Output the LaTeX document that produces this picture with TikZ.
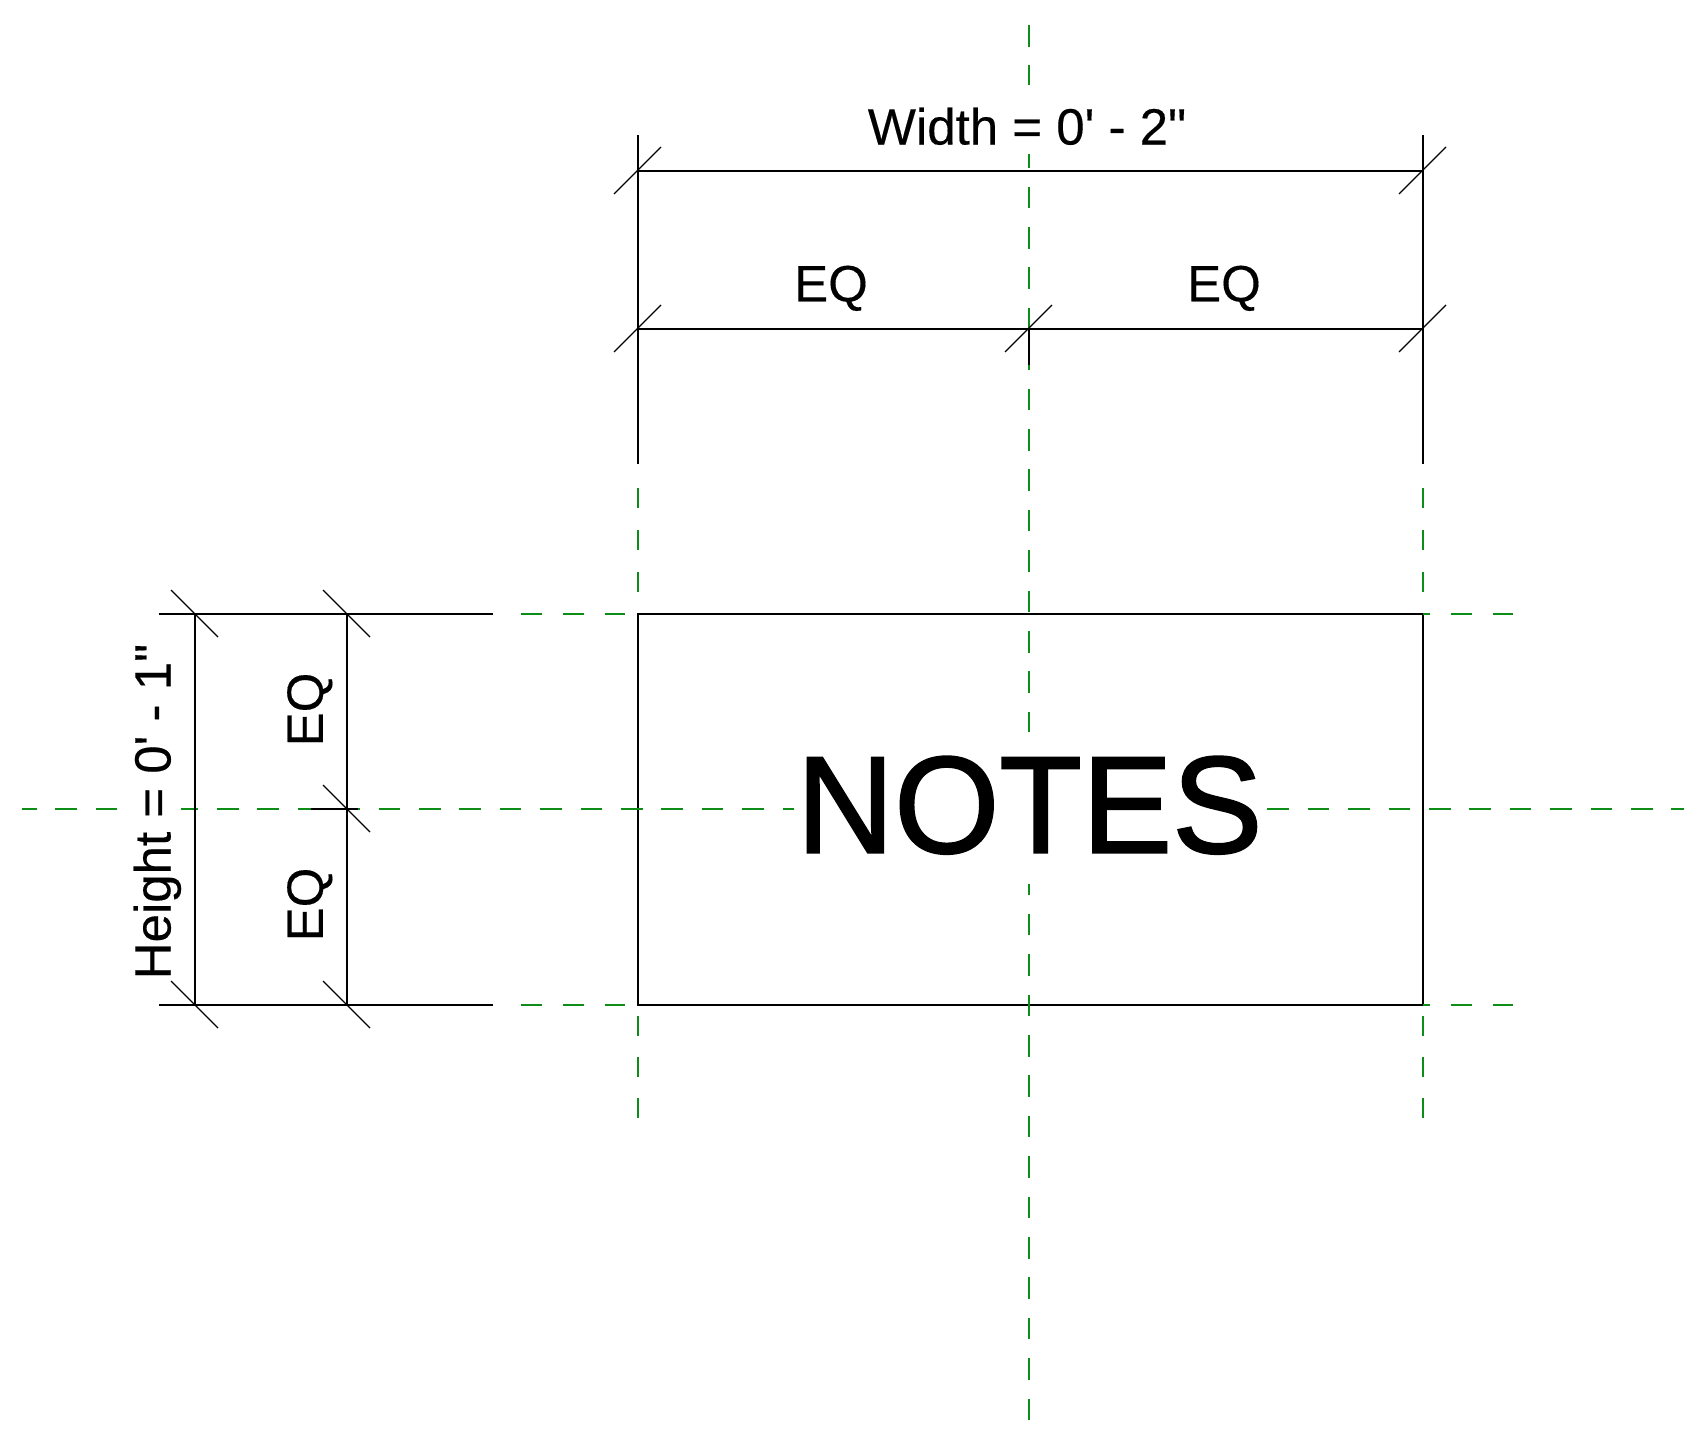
\documentclass[tikz,border=0pt]{standalone}
\usepackage{fontspec}
\newfontfamily\dimfont{Liberation Sans}[FakeBold=0.3]
\newfontfamily\notesfont{Liberation Sans}[FakeStretch=0.98,FakeBold=1.5]
\definecolor{refgreen}{RGB}{14,140,24}
\tikzset{
  blackline/.style={draw=black,line width=2pt},
  tickline/.style={draw=black,line width=1.3pt},
  greenbase/.style={draw=refgreen,line width=2pt},
  greenlong/.style={greenbase,dash pattern=on 21.5pt off 18.9pt},
  greenshort/.style={greenbase,dash pattern=on 20pt off 21pt},
  smalltext/.style={font=\dimfont\fontsize{51}{51}\selectfont,inner sep=0pt,anchor=base},
  masktext/.style={smalltext,fill=white},
}
\begin{document}
\begin{tikzpicture}[x=1pt,y=-1pt]
\useasboundingbox (0,0) rectangle (1695,1432);
% reference points
\coordinate (rtl) at (638,614);  \coordinate (rtr) at (1423,614);
\coordinate (rbl) at (638,1005); \coordinate (rbr) at (1423,1005);
\coordinate (d1l) at (638,171);  \coordinate (d1r) at (1423,171);
\coordinate (d2l) at (638,329);  \coordinate (d2m) at (1029,329);  \coordinate (d2r) at (1423,329);
\coordinate (e1t) at (638,135);  \coordinate (e1b) at (638,464);
\coordinate (e2t) at (1423,135); \coordinate (e2b) at (1423,464);
\coordinate (e3b) at (1029,364.5);
\coordinate (h1t) at (195,614);  \coordinate (h1b) at (195,1005);
\coordinate (h2t) at (347,614);  \coordinate (h2m) at (347,809); \coordinate (h2b) at (347,1005);
\coordinate (x1a) at (159,614);  \coordinate (x1b) at (492.5,614);
\coordinate (x2a) at (159,1005); \coordinate (x2b) at (492.5,1005);
\coordinate (x3a) at (311,809);  \coordinate (x3b) at (358,809);
% notes rectangle
\draw[blackline] (rtl) rectangle (rbr);
% green centre lines
\coordinate (gvt) at (1029,25);  \coordinate (gvb) at (1029,1421);
\coordinate (ghl) at (22,809);   \coordinate (ghr) at (1684,809);
\draw[greenlong] (gvt) -- (gvb);
\draw[greenlong,dash phase=7pt] (ghl) -- (ghr);
% green reference stubs
\coordinate (ga1) at (520.5,614); \coordinate (ga2) at (625,614);
\coordinate (gb1) at (520.5,1005);\coordinate (gb2) at (625,1005);
\coordinate (gc1) at (1423,614);  \coordinate (gc2) at (1512.5,614);
\coordinate (gd1) at (1423,1005); \coordinate (gd2) at (1512.5,1005);
\coordinate (ge1) at (638,488);   \coordinate (ge2) at (638,592);
\coordinate (gf1) at (1423,488);  \coordinate (gf2) at (1423,592);
\coordinate (gg1) at (638,1016);  \coordinate (gg2) at (638,1119);
\coordinate (gh1) at (1423,1016); \coordinate (gh2) at (1423,1119);
\foreach \a/\b in {ga1/ga2,gb1/gb2}
  \draw[greenbase,dash pattern=on 21pt off 21pt] (\a) -- (\b);
\foreach \a/\b in {gc1/gc2,gd1/gd2}
  \draw[greenbase,dash pattern=on 21pt off 21pt,dash phase=14pt] (\a) -- (\b);
\foreach \a/\b in {ge1/ge2,gf1/gf2}
  \draw[greenbase,dash pattern=on 20pt off 22pt] (\a) -- (\b);
\foreach \a/\b in {gg1/gg2,gh1/gh2}
  \draw[greenshort] (\a) -- (\b);
% texts, masking the green lines
\node[masktext,text height=60pt,text depth=9.5pt] (widthlabel) at (1027,144.5) {Width = 0' - 2"};
\node[masktext,rotate=90,text height=38pt,text depth=10.5pt] (heightlabel) at (170.5,811.5) {Height = 0' - 1"};
\node[smalltext] (eqa) at (831,301.3) {EQ};
\node[smalltext] (eqb) at (1224,301.3) {EQ};
\node[smalltext,rotate=90] (eqc) at (322.8,709.5) {EQ};
\node[smalltext,rotate=90] (eqd) at (322.8,904.5) {EQ};
\node[fill=white,inner sep=0pt,anchor=base,minimum width=471pt,text height=120.7pt,text depth=31.3pt,
      font=\notesfont\fontsize{138}{138}\selectfont] (notes) at (1029.5,852.7) {NOTES};
% dimension lines
\draw[blackline] (d1l) -- (d1r);
\draw[blackline] (d2l) -- (d2r);
\draw[blackline] (e1t) -- (e1b);
\draw[blackline] (e2t) -- (e2b);
\draw[blackline] (d2m) -- (e3b);
\draw[blackline] (h1t) -- (h1b);
\draw[blackline] (h2t) -- (h2b);
\draw[blackline] (x1a) -- (x1b);
\draw[blackline] (x2a) -- (x2b);
\draw[blackline] (x3a) -- (x3b);
% ticks
\foreach \p in {d1l,d1r,d2l,d2m,d2r}
  \draw[tickline] ([shift={(-24,23)}]\p) -- ([shift={(23,-24)}]\p);
\foreach \p in {h1t,h1b,h2t,h2m,h2b}
  \draw[tickline] ([shift={(-24,-24)}]\p) -- ([shift={(23,23)}]\p);
\end{tikzpicture}
\end{document}
